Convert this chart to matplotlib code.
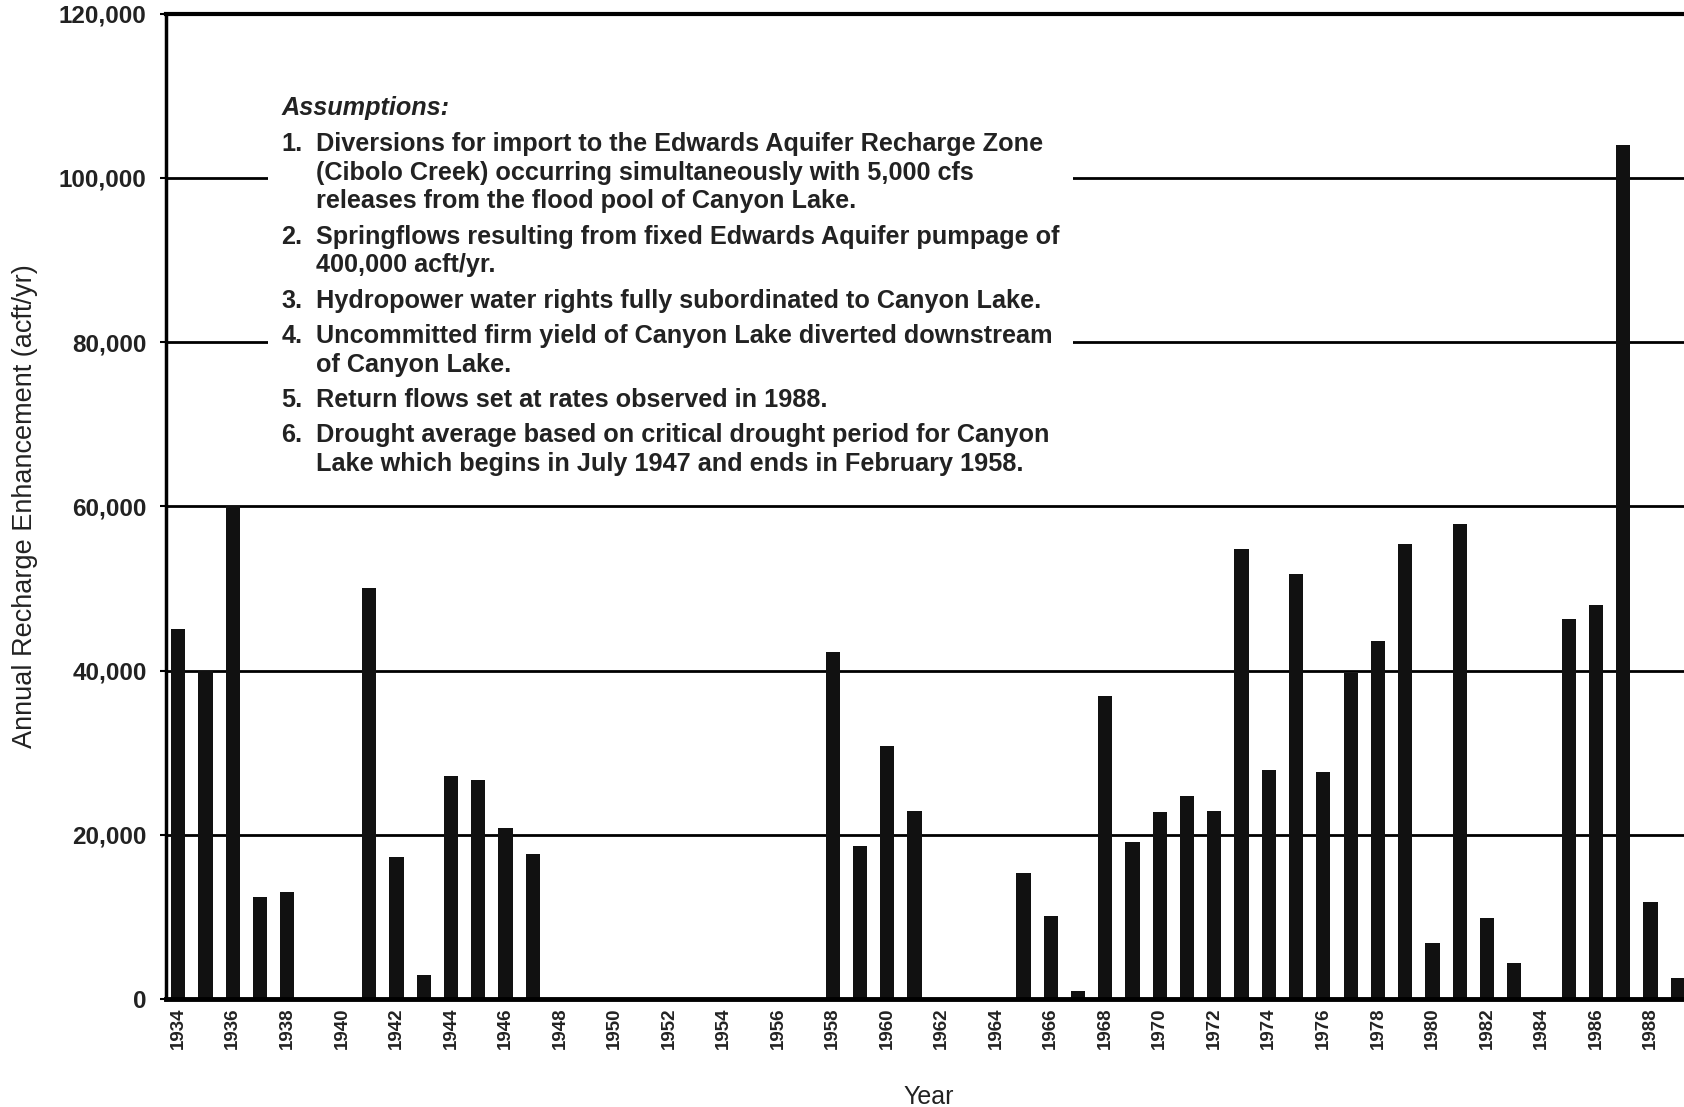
import matplotlib
matplotlib.use("Agg")
import matplotlib.pyplot as plt
from matplotlib.patches import Rectangle

# ---------------- data ----------------
years = list(range(1934, 1990))
recharge = [
    45000, 40000, 60000, 12400, 13000, 0, 0, 50000, 17300, 2900,   # 1934-1943
    27100, 26700, 20800, 17700, 0, 0, 0, 0, 0, 0,                  # 1944-1953
    0, 0, 0, 0, 42300, 18600, 30800, 22900, 0, 0,                  # 1954-1963
    0, 15300, 10100, 1000, 36900, 19100, 22800, 24700, 22900, 54800,  # 1964-1973
    27900, 51800, 27600, 39700, 43600, 55400, 6800, 57900, 9900, 4400,  # 1974-1983
    0, 46300, 48000, 104000, 11800, 2500,                          # 1984-1989
]
yticks = [0, 20000, 40000, 60000, 80000, 100000, 120000]
xticks = list(range(1934, 1990, 2))

assumptions = [
    ["Diversions for import to the Edwards Aquifer Recharge Zone",
     "(Cibolo Creek) occurring simultaneously with 5,000 cfs",
     "releases from the flood pool of Canyon Lake."],
    ["Springflows resulting from fixed Edwards Aquifer pumpage of",
     "400,000 acft/yr."],
    ["Hydropower water rights fully subordinated to Canyon Lake."],
    ["Uncommitted firm yield of Canyon Lake diverted downstream",
     "of Canyon Lake."],
    ["Return flows set at rates observed in 1988."],
    ["Drought average based on critical drought period for Canyon",
     "Lake which begins in July 1947 and ends in February 1958."],
]

plt.rcParams['font.family'] = ['Liberation Sans', 'DejaVu Sans']

fig = plt.figure(figsize=(16.84, 11.07), dpi=100)
ax = fig.add_axes([0.0986, 0.0976, 0.905, 0.890])

# horizontal reference lines
for v in yticks[1:-1]:
    ax.axhline(v, color='black', lw=2, zorder=1)

ax.bar(years, recharge, width=0.52, color='#111111', zorder=2)

ax.set_xlim(1933.55, 1989.45)
ax.set_ylim(0, 120000)
ax.set_yticks(yticks)
ax.set_yticklabels([f"{v:,}" for v in yticks], fontsize=17.5, fontweight='bold',
                   color='#222222')
ax.set_xticks(xticks)
ax.set_xticklabels([str(x) for x in xticks], rotation=90, fontsize=13.5,
                   fontweight='bold', color='#222222')
ax.tick_params(axis='x', length=0, pad=6)
ax.tick_params(axis='y', length=4, width=1.5, pad=10)

for s in ['left', 'top']:
    ax.spines[s].set_linewidth(2.5)
ax.spines['top'].set_linewidth(3)
ax.spines['bottom'].set_linewidth(3.5)
ax.spines['right'].set_visible(False)

ax.set_ylabel("Annual Recharge Enhancement (acft/yr)", fontsize=19.5, color='#222222')
ax.yaxis.set_label_coords(-0.084, 0.5)
ax.set_xlabel("Year", fontsize=18, color='#222222', va='top')
ax.xaxis.set_label_coords(0.5007, -0.087)

# assumptions box (white background hides the grid lines)
ax.add_patch(Rectangle((0.067, 0.524), 0.528, 0.398, transform=ax.transAxes,
                       facecolor='white', edgecolor='none', zorder=3))
ax.text(0.0758, 0.9046, "Assumptions:", transform=ax.transAxes, fontsize=18.2,
        style='italic', fontweight='bold', color='#222222', va='center', zorder=4)
y = 0.868
for i, item in enumerate(assumptions):
    ax.text(0.0758, y, f"{i + 1}.", transform=ax.transAxes, fontsize=18.2,
            fontweight='bold', color='#222222', va='center', zorder=4)
    for line in item:
        ax.text(0.0981, y, line, transform=ax.transAxes, fontsize=18.2,
                fontweight='bold', color='#222222', va='center', zorder=4)
        y -= 0.0292
    y -= 0.0066

fig.savefig("out.png", dpi=100)
